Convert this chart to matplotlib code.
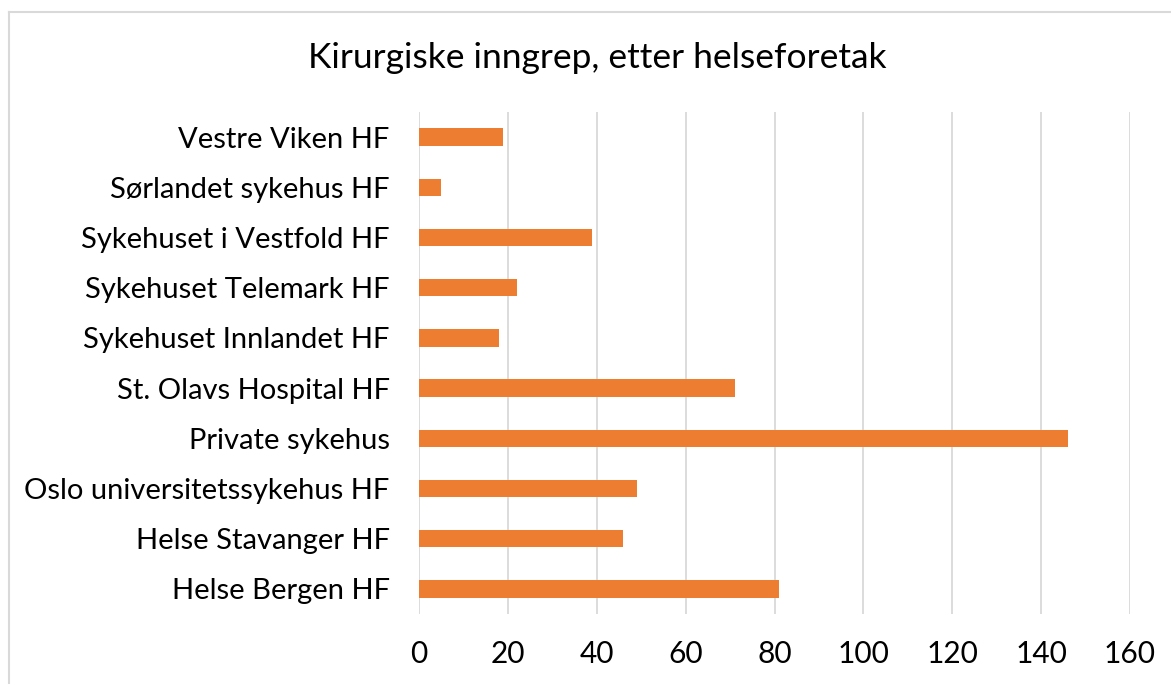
import matplotlib
matplotlib.use("Agg")
import matplotlib.pyplot as plt
from matplotlib.lines import Line2D

categories = ["Helse Bergen HF", "Helse Stavanger HF", "Oslo universitetssykehus HF",
              "Private sykehus", "St. Olavs Hospital HF", "Sykehuset Innlandet HF",
              "Sykehuset Telemark HF", "Sykehuset i Vestfold HF", "Sørlandet sykehus HF",
              "Vestre Viken HF"]
values = [81, 46, 49, 146, 71, 18, 22, 39, 5, 19]
xticks = [0, 20, 40, 60, 80, 100, 120, 140, 160]
title = "Kirurgiske inngrep, etter helseforetak"

plt.rcParams['font.family'] = ['Lato', 'DejaVu Sans']

W, H = 1171, 684
fig = plt.figure(figsize=(W / 100, H / 100), dpi=100)
ax = fig.add_axes([419 / W, 1 - 614 / H, (1130 - 419) / W, (614 - 112) / H])

ax.barh(range(len(categories)), values, height=0.35, color="#ED7D31", zorder=3)
ax.set_xlim(0, 160)
ax.set_ylim(-0.5, len(categories) - 0.5)
ax.set_xticks(xticks)
ax.set_yticks(range(len(categories)))
ax.set_yticklabels(categories)
ax.grid(axis="x", color="#d9d9d9", linewidth=1.3, zorder=0)
for s in ax.spines.values():
    s.set_visible(False)
ax.tick_params(axis="both", length=0, colors="#000000")
ax.tick_params(axis="x", pad=19, labelsize=21.5)
ax.tick_params(axis="y", pad=21, labelsize=21)

fig.text(597 / W, 1 - 58 / H, title, ha="center", va="center", fontsize=25.5)

fig.add_artist(Line2D([9 / W, 9 / W], [0, 1 - 12 / H], transform=fig.transFigure,
                      color="#d9d9d9", linewidth=1.5))
fig.add_artist(Line2D([9 / W, 1], [1 - 12 / H, 1 - 12 / H], transform=fig.transFigure,
                      color="#d9d9d9", linewidth=1.5))

fig.savefig("out.png", dpi=100, facecolor="white")
